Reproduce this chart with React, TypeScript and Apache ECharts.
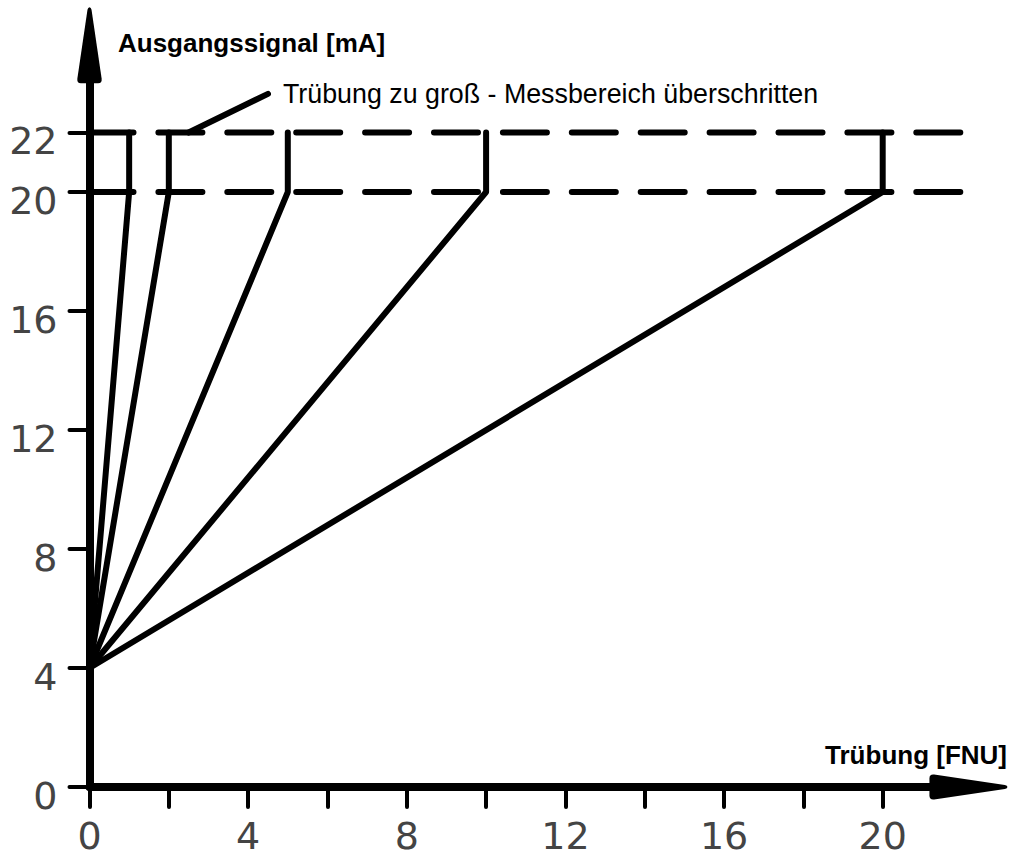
import React, { useEffect, useRef } from "react";
import * as echarts from "echarts";

// ---- data ----
const xTickValues = [0, 2, 4, 6, 8, 10, 12, 14, 16, 18, 20];
const xLabelValues = [0, 4, 8, 12, 16, 20];
const yTickValues = [0, 4, 8, 12, 16, 20, 22];
const measuringRanges = [1, 2, 5, 10, 20]; // FNU full scale of each range
const signalZero = 4; // mA at 0 FNU
const signalFull = 20; // mA at full scale
const signalOver = 22; // mA when range exceeded
const limitLineEnd = 22; // FNU where dashed lines end
const calloutPoints: [number, number][] = [
  [2.5, 22],
  [4.5, 23.3],
];
const calloutText = "Trübung zu groß - Messbereich überschritten";
const xAxisTitle = "Trübung [FNU]";
const yAxisTitle = "Ausgangssignal [mA]";

const arrowPath =
  "path://M50 0 Q56 0 58 10 L98 282 Q100 300 84 300 L16 300 Q0 300 2 282 L42 10 Q44 0 50 0 Z";

export default function App() {
  const ref = useRef<HTMLDivElement>(null);
  useEffect(() => {
    if (!ref.current) return;
    const chart = echarts.init(ref.current, undefined, { renderer: "svg" });

    const rangeSeries = measuringRanges.map((r) => ({
      type: "line",
      symbol: "none",
      data: [
        [0, signalZero],
        [r, signalFull],
        [r, signalOver],
      ],
      lineStyle: { color: "#000", width: 6, cap: "round", join: "round" },
      z: 3,
    }));

    const dashed = [signalFull, signalOver].map((v) => ({
      type: "line",
      symbol: "none",
      data: [
        [0, v],
        [limitLineEnd, v],
      ],
      lineStyle: { color: "#000", width: 6, type: [44, 24.9], cap: "round" },
      z: 2,
    }));

    const tickLabelFont = {
      fontFamily: "DejaVu Sans",
      fontSize: 38,
      color: "#444",
    };

    chart.setOption({
      animation: false,
      grid: {
        left: 89.5,
        right: 31.15,
        top: 43.25,
        bottom: 71,
        containLabel: false,
        outerBoundsMode: "none",
      },
      xAxis: {
        type: "value",
        min: 0,
        max: 22.5,
        interval: 2,
        splitLine: { show: false },
        axisLine: {
          show: true,
          onZero: false,
          symbol: ["none", arrowPath],
          symbolSize: [28, 78],
          symbolOffset: [0, -13.4],
          lineStyle: { color: "#000", width: 8 },
        },
        axisTick: {
          show: true,
          length: 20,
          customValues: xTickValues,
          lineStyle: { color: "#000", width: 4, cap: "round" },
        },
        axisLabel: {
          ...tickLabelFont,
          margin: 34,
          verticalAlign: "top",
          lineHeight: 30,
          customValues: xLabelValues,
        },
      },
      yAxis: {
        type: "value",
        min: 0,
        max: 25,
        interval: 1,
        splitLine: { show: false },
        axisLine: {
          show: true,
          onZero: false,
          symbol: ["none", arrowPath],
          symbolSize: [28, 76],
          symbolOffset: [0, -2],
          lineStyle: { color: "#000", width: 8 },
        },
        axisTick: {
          show: true,
          length: 20,
          customValues: yTickValues,
          lineStyle: { color: "#000", width: 4, cap: "round" },
        },
        axisLabel: {
          ...tickLabelFont,
          margin: 32,
          verticalAlign: "top",
          lineHeight: 17,
          customValues: yTickValues,
        },
      },
      series: [
        ...dashed,
        ...rangeSeries,
        {
          type: "line",
          symbol: "none",
          data: calloutPoints,
          lineStyle: { color: "#000", width: 6, cap: "round" },
          endLabel: {
            show: true,
            formatter: calloutText,
            distance: 15,
            fontFamily: "Liberation Sans",
            fontSize: 26.8,
            color: "#000",
          },
          z: 3,
        },
      ],
      graphic: [
        {
          type: "text",
          left: 118,
          top: 30,
          style: {
            text: yAxisTitle,
            font: "bold 26px 'Liberation Sans'",
            fill: "#000",
          },
        },
        {
          type: "text",
          right: 6,
          top: 742,
          style: {
            text: xAxisTitle,
            font: "bold 26px 'Liberation Sans'",
            fill: "#000",
          },
        },
      ],
    });
    return () => chart.dispose();
  }, []);
  return (
    <div
      ref={ref}
      style={{ position: "absolute", left: 0, top: 0, width: 1013, height: 858 }}
    />
  );
}
